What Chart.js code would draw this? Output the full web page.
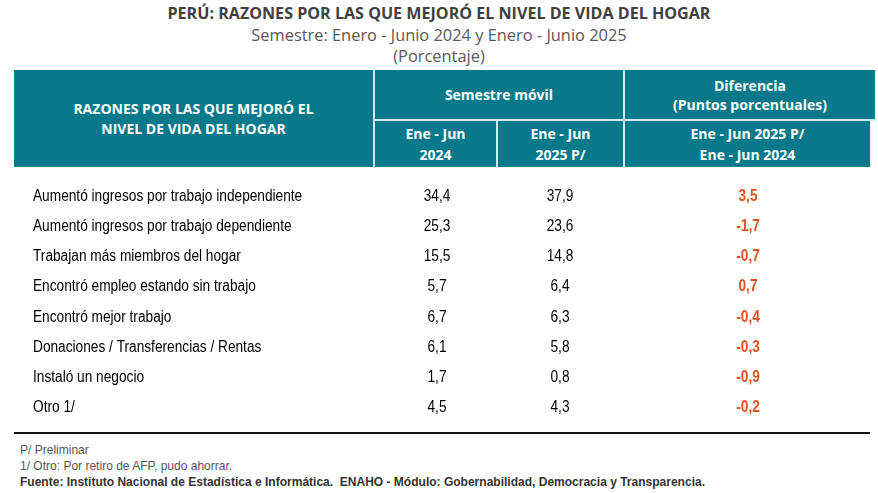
<!DOCTYPE html>
<html>
<head>
<meta charset="utf-8">
<script src="https://cdn.jsdelivr.net/npm/chart.js@4"></script>
<style>
  body { margin:0; width:878px; height:493px; background:#fff; position:relative; overflow:hidden; font-family:"Liberation Sans",Arial,sans-serif; }
  .t { position:absolute; left:0; width:878px; text-align:center; white-space:nowrap; font-family:"Open Sans",sans-serif; line-height:20px; }
  #title { top:3px; font-weight:bold; font-size:16.1px; color:#404040; }
  #sub1 { top:25px; font-size:16.4px; color:#595959; }
  #sub2 { top:46px; font-size:16.4px; color:#595959; }
  .gap { position:absolute; background:#c4ecf1; }
  .cell { position:absolute; background:#08798b; color:#fff; font-family:"Open Sans",sans-serif; font-weight:bold; font-size:14px; line-height:20px; display:flex; align-items:center; justify-content:center; text-align:center; }
  #rule { position:absolute; left:14px; top:432px; width:856px; height:2px; background:#111; }
  .note { position:absolute; left:20px; font-size:13.5px; line-height:16px; color:#555; white-space:nowrap; transform:scaleX(0.89); transform-origin:0 50%; }
  #src { font-weight:bold; color:#333; }
  #wrap { position:absolute; left:0; top:181px; width:878px; height:242px; }
</style>
</head>
<body>
<div class="t" id="title">PERÚ: RAZONES POR LAS QUE MEJORÓ EL NIVEL DE VIDA DEL HOGAR</div>
<div class="t" id="sub1">Semestre: Enero - Junio 2024 y Enero - Junio 2025</div>
<div class="t" id="sub2">(Porcentaje)</div>

<div class="gap" style="left:373px;top:70px;width:502px;height:51px;"></div>
<div class="gap" style="left:373px;top:121px;width:497px;height:46px;"></div>
<div class="cell" style="left:14px;top:70px;width:359px;height:97px;">RAZONES POR LAS QUE MEJORÓ EL<br>NIVEL DE VIDA DEL HOGAR</div>
<div class="cell" style="left:375px;top:70px;width:248px;height:49px;">Semestre móvil</div>
<div class="cell" style="left:625px;top:70px;width:250px;height:49px;line-height:19px;">Diferencia<br>(Puntos porcentuales)</div>
<div class="cell" style="left:375px;top:121px;width:121px;height:46px;line-height:21px;">Ene - Jun<br>2024</div>
<div class="cell" style="left:498px;top:121px;width:125px;height:46px;line-height:21px;">Ene - Jun<br>2025 P/</div>
<div class="cell" style="left:625px;top:121px;width:245px;height:46px;line-height:21px;">Ene - Jun 2025 P/<br>Ene - Jun 2024</div>

<div id="wrap"><canvas id="tabla"></canvas></div>
<div id="rule"></div>

<div class="note" style="top:442px;">P/ Preliminar</div>
<div class="note" style="top:458px;">1/ Otro: Por retiro de AFP, pudo ahorrar.</div>
<div class="note" id="src" style="top:474px;">Fuente: Instituto Nacional de Estadística e Informática.&nbsp; ENAHO - Módulo: Gobernabilidad, Democracia y Transparencia.</div>

<script>
const reasons = [
  'Aumentó ingresos por trabajo independiente',
  'Aumentó ingresos por trabajo dependiente',
  'Trabajan más miembros del hogar',
  'Encontró empleo estando sin trabajo',
  'Encontró mejor trabajo',
  'Donaciones / Transferencias / Rentas',
  'Instaló un negocio',
  'Otro 1/'
];
const ene2024 = [34.4, 25.3, 15.5, 5.7, 6.7, 6.1, 1.7, 4.5];
const ene2025 = [37.9, 23.6, 14.8, 6.4, 6.3, 5.8, 0.8, 4.3];
const diferencia = [3.5, -1.7, -0.7, 0.7, -0.4, -0.3, -0.9, -0.2];

// column positions across the table width (x scale runs 0..878)
const cols = {label: 33, c2024: 437, c2025: 560, dif: 748};

const fmt = v => v.toFixed(1).replace('.', ',');

function column(x, values, txt, style) {
  return {
    data: values.map((v, i) => ({x: x, y: reasons[i], t: txt(v, i)})),
    pointRadius: 0,
    cellStyle: style
  };
}

// no narrow font installed, so squeeze the text horizontally
const narrow = 0.855;

const cellText = {
  id: 'cellText',
  afterDatasetsDraw(chart) {
    const ctx = chart.ctx;
    chart.data.datasets.forEach((ds, di) => {
      const st = ds.cellStyle;
      chart.getDatasetMeta(di).data.forEach((pt, i) => {
        ctx.save();
        ctx.translate(pt.x, pt.y);
        ctx.scale(narrow, 1);
        ctx.font = st.font;
        ctx.fillStyle = st.color;
        ctx.textAlign = st.align;
        ctx.textBaseline = 'middle';
        ctx.fillText(ds.data[i].t, 0, 0);
        ctx.restore();
      });
    });
  }
};

const bodyFont = '16px "Liberation Sans", Arial, sans-serif';

new Chart(document.getElementById('tabla'), {
  type: 'scatter',
  data: {
    datasets: [
      column(cols.label, reasons, (v) => v, {font: bodyFont, color: '#000', align: 'left'}),
      column(cols.c2024, ene2024, fmt, {font: bodyFont, color: '#000', align: 'center'}),
      column(cols.c2025, ene2025, fmt, {font: bodyFont, color: '#000', align: 'center'}),
      column(cols.dif, diferencia, fmt, {font: 'bold 16px "Liberation Sans", Arial, sans-serif', color: '#e0531f', align: 'center'})
    ]
  },
  options: {
    responsive: true,
    maintainAspectRatio: false,
    animation: false,
    layout: {padding: 0},
    plugins: {legend: {display: false}, tooltip: {enabled: false}},
    scales: {
      x: {type: 'linear', min: 0, max: 878, display: false},
      y: {type: 'category', labels: reasons, offset: true, display: false}
    }
  },
  plugins: [cellText]
});
</script>
</body>
</html>
